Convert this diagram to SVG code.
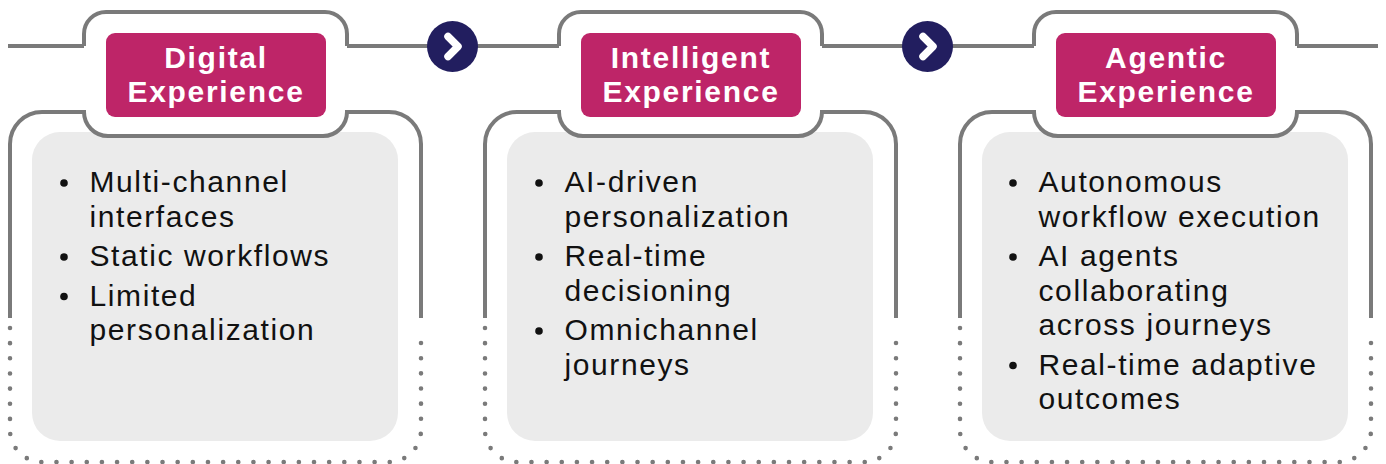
<svg xmlns="http://www.w3.org/2000/svg" width="1386" height="464" viewBox="0 0 1386 464">
<defs>
<style>
.ln{fill:none;stroke:#7a7a7a;stroke-width:4;}
.dot{fill:none;stroke:#7a7a7a;stroke-width:4.6;stroke-linecap:round;stroke-dasharray:0 15.15;}
.box{fill:#ebebeb;}
.tabfill{fill:#ffffff;}
.pink{fill:#be2568;}
.hd{font-family:"Liberation Sans",Arial,sans-serif;font-weight:bold;font-size:30px;fill:#ffffff;text-anchor:middle;letter-spacing:1.7px;}
.tx{font-family:"Liberation Sans",Arial,sans-serif;font-size:30px;fill:#111111;letter-spacing:1.6px;}
.bul{fill:#111111;}
.nav{fill:#221e5f;}
.chev{fill:none;stroke:#ffffff;stroke-width:7.5;stroke-linecap:round;stroke-linejoin:round;}
</style>
<g id="cardShape">
<rect class="box" x="32" y="132" width="366" height="309" rx="28"/>
<rect class="tabfill" x="84" y="12" width="263" height="124" rx="22"/>
<path class="ln" d="M84,46 V34 A22,22 0 0 1 106,12 H325 A22,22 0 0 1 347,34 V46"/>
<path class="ln" d="M10,318 V144 A32,32 0 0 1 42,112 H84 A24,24 0 0 0 108,136 H323 A24,24 0 0 0 347,112 H389 A32,32 0 0 1 421,144 V318"/>
<path class="dot" d="M10,328 V430 A32,32 0 0 0 42,462 H389 A32,32 0 0 0 421,430 V328"/>
<rect class="pink" x="106" y="33" width="220" height="84" rx="9"/>
</g>
</defs>
<g id="connectors">
<path class="ln" d="M8,46 H84 M347,46 H559 M822,46 H1034 M1297,46 H1378"/>
<circle class="nav" cx="452.5" cy="46.5" r="25.5"/>
<polyline class="chev" points="448,36.5 458,46.5 448,56.5"/>
<circle class="nav" cx="927.5" cy="46.5" r="25.5"/>
<polyline class="chev" points="923,36.5 933,46.5 923,56.5"/>
</g>
<g id="digital">
<use href="#cardShape"/>
<text class="hd" x="216" y="67.5">Digital</text>
<text class="hd" x="216" y="102">Experience</text>
<circle class="bul" cx="64" cy="183" r="3.8"/>
<text class="tx" x="89.5" y="192">Multi-channel</text>
<text class="tx" x="89.5" y="226.5">interfaces</text>
<circle class="bul" cx="64" cy="257" r="3.8"/>
<text class="tx" x="89.5" y="266">Static workflows</text>
<circle class="bul" cx="64" cy="296.5" r="3.8"/>
<text class="tx" x="89.5" y="305.5">Limited</text>
<text class="tx" x="89.5" y="340">personalization</text>
</g>
<g id="intelligent">
<use href="#cardShape" x="475"/>
<text class="hd" x="691" y="67.5">Intelligent</text>
<text class="hd" x="691" y="102">Experience</text>
<circle class="bul" cx="539" cy="183" r="3.8"/>
<text class="tx" x="564.5" y="192">AI-driven</text>
<text class="tx" x="564.5" y="226.5">personalization</text>
<circle class="bul" cx="539" cy="257" r="3.8"/>
<text class="tx" x="564.5" y="266">Real-time</text>
<text class="tx" x="564.5" y="300.5">decisioning</text>
<circle class="bul" cx="539" cy="331" r="3.8"/>
<text class="tx" x="564.5" y="340">Omnichannel</text>
<text class="tx" x="564.5" y="374.5">journeys</text>
</g>
<g id="agentic">
<use href="#cardShape" x="950"/>
<text class="hd" x="1166" y="67.5">Agentic</text>
<text class="hd" x="1166" y="102">Experience</text>
<circle class="bul" cx="1013" cy="183" r="3.8"/>
<text class="tx" x="1038.5" y="192">Autonomous</text>
<text class="tx" x="1038.5" y="226.5">workflow execution</text>
<circle class="bul" cx="1013" cy="257" r="3.8"/>
<text class="tx" x="1038.5" y="266">AI agents</text>
<text class="tx" x="1038.5" y="300.5">collaborating</text>
<text class="tx" x="1038.5" y="335">across journeys</text>
<circle class="bul" cx="1013" cy="365.5" r="3.8"/>
<text class="tx" x="1038.5" y="374.5">Real-time adaptive</text>
<text class="tx" x="1038.5" y="409">outcomes</text>
</g>
</svg>
